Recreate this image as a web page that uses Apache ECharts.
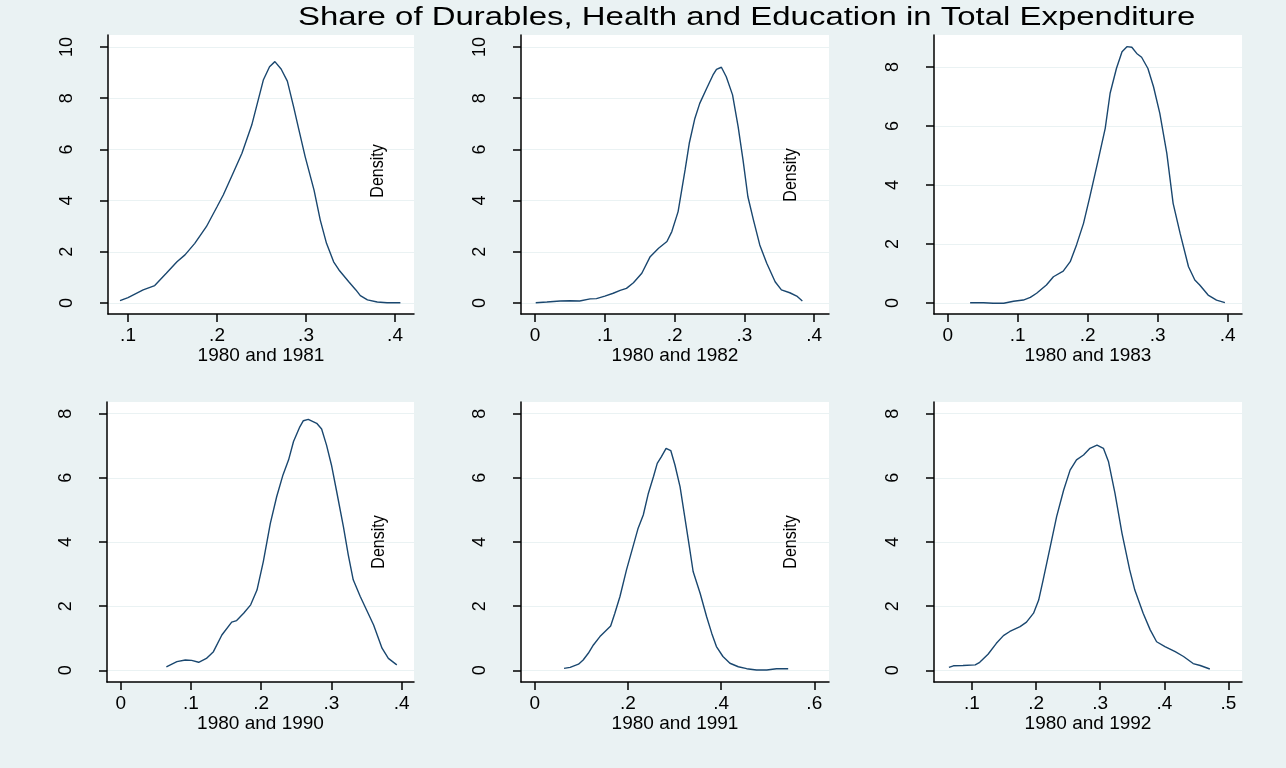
<!DOCTYPE html>
<html>
<head>
<meta charset="utf-8">
<script src="https://cdn.jsdelivr.net/npm/echarts@6/dist/echarts.min.js"></script>
<style>
html,body{margin:0;padding:0;background:#eaf2f3;}
#chart{width:1286px;height:768px;}
</style>
</head>
<body>
<div id="chart"></div>
<script>
// ---- Data ----
const titleText = "Share of Durables, Health and Education in Total Expenditure";
const panelNames = ["1980 and 1981", "1980 and 1982", "1980 and 1983", "1980 and 1990", "1980 and 1991", "1980 and 1992"];

const x1981 = [0.091,0.100,0.117,0.130,0.143,0.155,0.164,0.175,0.188,0.200,0.207,0.218,0.228,0.239,0.252,0.259,0.265,0.272,0.279,0.286,0.292,0.299,0.309,0.316,0.323,0.331,0.337,0.348,0.356,0.361,0.369,0.380,0.391,0.406];
const y1981 = [0.09,0.21,0.51,0.68,1.16,1.61,1.88,2.33,2.98,3.76,4.22,5.07,5.85,6.95,8.71,9.23,9.43,9.14,8.67,7.67,6.76,5.72,4.41,3.24,2.33,1.61,1.29,0.83,0.51,0.29,0.12,0.04,0.01,0.01];

const x1982 = [0.001,0.017,0.036,0.050,0.064,0.079,0.088,0.100,0.112,0.122,0.131,0.141,0.153,0.165,0.177,0.189,0.196,0.205,0.215,0.221,0.229,0.236,0.246,0.255,0.260,0.267,0.274,0.283,0.291,0.298,0.305,0.313,0.322,0.332,0.344,0.353,0.365,0.375,0.383];
const y1982 = [0.01,0.04,0.08,0.09,0.08,0.16,0.17,0.27,0.38,0.49,0.57,0.79,1.16,1.81,2.14,2.40,2.79,3.57,5.20,6.24,7.21,7.80,8.39,8.91,9.13,9.21,8.84,8.13,6.89,5.59,4.15,3.24,2.27,1.55,0.83,0.51,0.40,0.27,0.08];

const x1983 = [0.032,0.051,0.065,0.080,0.094,0.108,0.118,0.127,0.141,0.151,0.165,0.175,0.184,0.194,0.203,0.215,0.225,0.232,0.241,0.249,0.256,0.263,0.270,0.277,0.286,0.294,0.303,0.313,0.322,0.332,0.344,0.353,0.360,0.372,0.384,0.396];
const y1983 = [0.01,0.01,-0.01,-0.01,0.06,0.10,0.19,0.33,0.61,0.89,1.08,1.40,1.97,2.70,3.60,4.85,5.92,7.11,7.95,8.52,8.69,8.67,8.46,8.33,7.95,7.33,6.43,5.07,3.38,2.36,1.23,0.78,0.61,0.27,0.10,0.01];

const x1990 = [0.065,0.080,0.092,0.101,0.111,0.122,0.132,0.144,0.158,0.165,0.175,0.185,0.194,0.203,0.213,0.222,0.231,0.239,0.246,0.255,0.260,0.267,0.279,0.286,0.293,0.300,0.307,0.317,0.324,0.331,0.341,0.350,0.360,0.372,0.381,0.393];
const y1990 = [0.11,0.27,0.32,0.31,0.25,0.37,0.58,1.10,1.50,1.55,1.78,2.04,2.50,3.39,4.58,5.41,6.09,6.56,7.13,7.59,7.78,7.82,7.70,7.52,7.02,6.40,5.62,4.48,3.59,2.82,2.30,1.88,1.41,0.69,0.37,0.17];

const x1991 = [0.063,0.076,0.094,0.104,0.115,0.126,0.140,0.151,0.163,0.172,0.183,0.197,0.212,0.222,0.233,0.244,0.255,0.263,0.272,0.282,0.292,0.301,0.312,0.323,0.332,0.340,0.355,0.369,0.380,0.390,0.404,0.419,0.437,0.455,0.476,0.498,0.519,0.544];
const y1991 = [0.06,0.09,0.19,0.32,0.53,0.79,1.05,1.21,1.38,1.78,2.30,3.13,3.91,4.43,4.84,5.52,6.04,6.45,6.66,6.92,6.85,6.40,5.72,4.69,3.85,3.08,2.40,1.67,1.15,0.74,0.43,0.22,0.11,0.05,0.01,0.01,0.05,0.05];

const x1992 = [0.064,0.071,0.086,0.105,0.112,0.125,0.138,0.149,0.159,0.175,0.185,0.196,0.204,0.211,0.222,0.232,0.243,0.253,0.263,0.274,0.284,0.295,0.305,0.313,0.323,0.334,0.346,0.354,0.367,0.378,0.388,0.401,0.417,0.430,0.445,0.456,0.471];
const y1992 = [0.09,0.14,0.15,0.17,0.25,0.50,0.84,1.08,1.21,1.36,1.50,1.78,2.19,2.82,3.85,4.79,5.62,6.24,6.56,6.71,6.92,7.02,6.92,6.50,5.52,4.27,3.13,2.50,1.78,1.26,0.89,0.74,0.58,0.43,0.21,0.15,0.04];

const xTicks1 = [0.1,0.2,0.3,0.4];
const xTicks2 = [0,0.1,0.2,0.3,0.4];
const xTicks3 = [0,0.1,0.2,0.3,0.4];
const xTicks4 = [0,0.1,0.2,0.3,0.4];
const xTicks5 = [0,0.2,0.4,0.6];
const xTicks6 = [0.1,0.2,0.3,0.4,0.5];
const yTicksTop = [0,2,4,6,8,10];
const yTicksTopRight = [0,2,4,6,8];
const yTicksBottom = [0,2,4,6,8];

// ---- Layout ----
const panels = [
  {xs:x1981, ys:y1981, xt:xTicks1, yt:yTicksTop,      grid:{left:108,top:35,width:306,height:279}, xr:[0.0775,0.4213], yr:[-0.43,10.47], density:true},
  {xs:x1982, ys:y1982, xt:xTicks2, yt:yTicksTop,      grid:{left:521,top:35,width:308,height:279}, xr:[-0.0201,0.4212], yr:[-0.43,10.47], density:true},
  {xs:x1983, ys:y1983, xt:xTicks3, yt:yTicksTopRight, grid:{left:934,top:35,width:308,height:279}, xr:[-0.0196,0.4204], yr:[-0.373,9.085], density:false},
  {xs:x1990, ys:y1990, xt:xTicks4, yt:yTicksBottom,   grid:{left:107,top:402,width:307,height:280}, xr:[-0.0195,0.4175], yr:[-0.365,8.363], density:true},
  {xs:x1991, ys:y1991, xt:xTicks5, yt:yTicksBottom,   grid:{left:521,top:402,width:308,height:280}, xr:[-0.0294,0.6316], yr:[-0.365,8.363], density:true},
  {xs:x1992, ys:y1992, xt:xTicks6, yt:yTicksBottom,   grid:{left:934,top:402,width:308,height:280}, xr:[0.0407,0.5212], yr:[-0.365,8.363], density:false}
];

const FONT = "Liberation Sans, Arial, Helvetica, sans-serif";
const fmtX = v => { const s = String(Math.round(v*1000)/1000); return s.replace(/^0\./, '.'); };

const grids = [], xAxes = [], yAxes = [], series = [], graphics = [];
panels.forEach((p, i) => {
  grids.push(Object.assign({show:true, backgroundColor:'#ffffff', borderWidth:0}, p.grid));
  xAxes.push({
    type:'value', gridIndex:i, min:p.xr[0], max:p.xr[1],
    name: panelNames[i], nameLocation:'middle', nameGap:29,
    nameTextStyle:{color:'#000', fontSize:19, fontFamily:FONT},
    axisLine:{show:true, onZero:false, lineStyle:{color:'#000', width:1.5}},
    axisTick:{show:true, length:8, customValues:p.xt, lineStyle:{color:'#000', width:1.5}},
    axisLabel:{show:true, customValues:p.xt, formatter:fmtX, color:'#000', fontSize:19, fontFamily:FONT, margin:12},
    splitLine:{show:false}
  });
  yAxes.push({
    type:'value', gridIndex:i, min:p.yr[0], max:p.yr[1],
    axisLine:{show:true, onZero:false, lineStyle:{color:'#000', width:1.5}},
    axisTick:{show:true, length:8, customValues:p.yt, lineStyle:{color:'#000', width:1.5}},
    axisLabel:{show:true, customValues:p.yt, rotate:90, color:'#000', fontSize:18, fontFamily:FONT, margin:32},
    splitLine:{show:true, lineStyle:{color:'#eaf2f3', width:1.2}}
  });
  series.push({
    type:'line', xAxisIndex:i, yAxisIndex:i, showSymbol:false, smooth:false,
    lineStyle:{color:'#1a476f', width:1.4}, itemStyle:{color:'#1a476f'},
    data: p.xs.map((x, k) => [x, p.ys[k]]),
    silent:true, animation:false
  });
});

// "Density" labels that appear inside four of the panels
const densityPos = [[378,171],[791,175],[0,0],[379,542],[791,542]];
panels.forEach((p, i) => {
  if (!p.density) return;
  graphics.push({
    type:'text', x:densityPos[i][0], y:densityPos[i][1], rotation:Math.PI/2, scaleY:1.12, z:100,
    style:{text:'Density', fill:'#000', font:'16px ' + FONT, align:'center', verticalAlign:'middle'}
  });
});

// Title (stretched horizontally like the reference)
graphics.push({
  type:'text', x:298, y:5, scaleX:1.267, z:100,
  style:{text:titleText, fill:'#000', font:'26px ' + FONT, align:'left', verticalAlign:'top'}
});

const chart = echarts.init(document.getElementById('chart'), null, {renderer:'canvas'});
chart.setOption({
  backgroundColor:'#eaf2f3',
  animation:false,
  grid:grids, xAxis:xAxes, yAxis:yAxes, series:series,
  graphic:graphics
});
</script>
</body>
</html>
